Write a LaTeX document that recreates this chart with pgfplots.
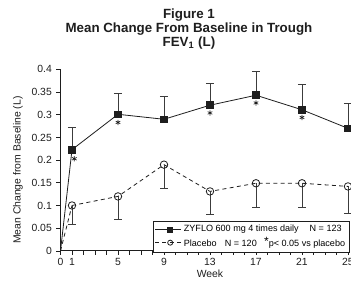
\documentclass[border=0pt]{standalone}
\usepackage{pgfplots}
\pgfplotsset{compat=1.18}
\usepackage{fontspec}
\setmainfont{Liberation Sans}
\definecolor{ink}{HTML}{1E1E1E}
\definecolor{bar}{HTML}{3C3C3C}
\begin{document}
\begin{tikzpicture}
\begin{axis}[
  scale only axis,
  width=215.6pt, height=136.1pt,
  xmin=0, xmax=25, ymin=0, ymax=0.4,
  axis x line*=bottom, axis y line*=left,
  axis line style={-, ink, line width=0.6pt},
  clip=false,
  xtick={0,1,5,9,13,17,21,25},
  minor xtick={2,3,4,6,7,8,10,11,12,14,15,16,18,19,20,22,23,24},
  ytick={0,0.05,0.1,0.15,0.2,0.25,0.3,0.35,0.4},
  scaled y ticks=false,
  yticklabel style={/pgf/number format/fixed, /pgf/number format/precision=2},
  /pgf/number format/assume math mode=true,
  tick align=outside,
  major tick length=3pt, minor tick length=3pt,
  tick style={ink, line width=0.5pt},
  ticklabel style={font=\fontsize{7.8}{9}\selectfont, text=ink},
  xticklabel style={yshift=1pt},
  legend style={at={(axis cs:8.04,0.066)}, anchor=north west, draw=ink, line width=0.5pt,
    font=\fontsize{6.8}{8}\selectfont, inner sep=1pt, row sep=-1.5pt,
    legend cell align=left, /tikz/every even column/.append style={column sep=1pt}},
  legend image code/.code={
    \draw[#1, mark=none] (0cm,0cm) -- (0.68cm,0cm);
    \path[#1, mark size=1.9pt] plot coordinates {(0.4cm,0cm)};
  },
]
\addplot[ink, line width=0.6pt, forget plot] coordinates {(0,0) (1,0.223)};
\addplot[ink, line width=0.6pt, dashed, dash pattern=on 3pt off 2.5pt, forget plot] coordinates {(0,0) (1,0.100)};
\addplot[ink, line width=0.6pt, mark=square*, mark size=2.5pt, mark options={solid, fill=ink},
  error bars/.cd, y dir=plus, y explicit,
  error bar style={bar, line width=0.6pt},
  error mark options={rotate=90, mark size=3pt, bar, line width=0.6pt}]
coordinates {
(1,0.223) +- (0,0.049)
(5,0.301) +- (0,0.047)
(9,0.290) +- (0,0.051)
(13,0.321) +- (0,0.048)
(17,0.343) +- (0,0.053)
(21,0.311) +- (0,0.055)
(25,0.270) +- (0,0.055)
};
\addlegendentry{ZYFLO 600 mg 4 times daily\hspace{1.2em}N = 123}
\addplot[ink, line width=0.6pt, dashed, dash pattern=on 3pt off 2.5pt, mark=o, mark size=2.8pt, mark options={solid, fill=white},
  error bars/.cd, y dir=minus, y explicit,
  error bar style={bar, line width=0.6pt, solid},
  error mark options={rotate=90, mark size=3pt, bar, line width=0.6pt, solid}]
coordinates {
(1,0.100) +- (0,0.042)
(5,0.120) +- (0,0.050)
(9,0.190) +- (0,0.052)
(13,0.131) +- (0,0.050)
(17,0.149) +- (0,0.054)
(21,0.149) +- (0,0.054)
(25,0.142) +- (0,0.059)
};
\addlegendentry{Placebo\hspace{0.9em}N = 120\hspace{0.8em}\raisebox{0.6pt}{\fontsize{9}{9}\selectfont *}p< 0.05 vs placebo}
\addplot[only marks, mark=asterisk, mark size=2pt, ink, line width=0.5pt, forget plot]
coordinates {(1.2,0.203) (5,0.283) (13,0.304) (17,0.326) (21,0.294)};
\node[align=center, font=\bfseries\fontsize{10}{10.5}\selectfont, text=ink] at (axis cs:11.17,0.489)
  {Figure 1\\Mean Change From Baseline in Trough\\FEV\textsubscript{1} (L)};
\node[rotate=90, font=\fontsize{7.8}{9}\selectfont, text=ink] at (axis cs:-3.70,0.178) {Mean Change from Baseline (L)};
\node[font=\fontsize{7.8}{9}\selectfont, text=ink] at (axis cs:13,-0.0507) {Week};
\coordinate (bl) at (axis cs:-5.261,-0.0727);
\coordinate (tr) at (axis cs:25.261,0.5529);
\end{axis}
\pgfresetboundingbox
\useasboundingbox (bl) rectangle (tr);
\end{tikzpicture}
\end{document}
